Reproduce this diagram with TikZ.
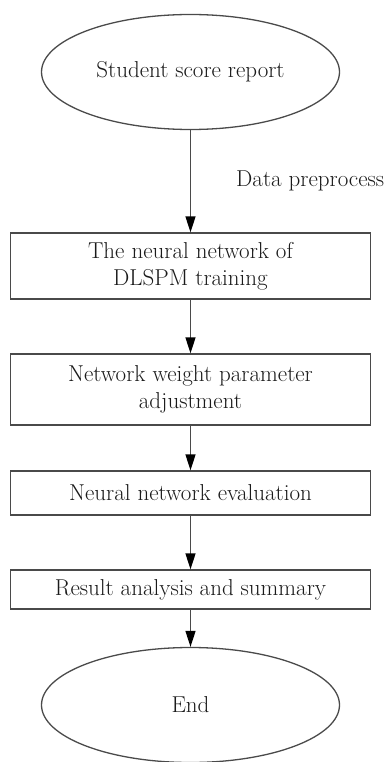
\documentclass[tikz,border=0pt]{standalone}
\usepackage{xcolor}
\usetikzlibrary{arrows.meta,shapes.geometric}
\definecolor{lineColor}{HTML}{4a4a4a}
\definecolor{textColor}{HTML}{1a1a1a}

\begin{document}
\begin{tikzpicture}[x=1pt,y=-1pt,
font=\fontsize{23}{27}\selectfont,text=textColor,
terminal/.style={shape=ellipse,draw=lineColor,line width=1.3pt,
    minimum width=298pt,minimum height=115pt,inner sep=0},
stepbox/.style={shape=rectangle,draw=lineColor,line width=1.3pt,
    minimum width=360pt,inner sep=0,align=center},
myarrow/.style={-{Triangle[length=16pt,width=10pt,color=black]},line width=1.3pt,draw=lineColor}
]
\useasboundingbox (0,0) rectangle (388,762);
\node[terminal] (start) at (190.5,72) {Student score report};
\node[stepbox,minimum height=66pt] (train) at (190.5,266) {The neural network of\\DLSPM training};
\node[stepbox,minimum height=71pt] (adjust) at (190.5,389.5) {Network weight parameter\\adjustment};
\node[stepbox,minimum height=44pt] (eval) at (190.5,493) {Neural network evaluation};
\node[stepbox,minimum height=39pt] (result) at (190.5,589.5) {Result analysis and summary};
\node[terminal] (finish) at (190.5,705) {End};
\node[anchor=west,inner sep=0] (prep) at (236,181) {Data preprocess};
\draw[myarrow] (start) -- (train);
\draw[myarrow] (train) -- (adjust);
\draw[myarrow] (adjust) -- (eval);
\draw[myarrow] (eval) -- (result);
\draw[myarrow] (result) -- (finish);
\end{tikzpicture}
\end{document}
